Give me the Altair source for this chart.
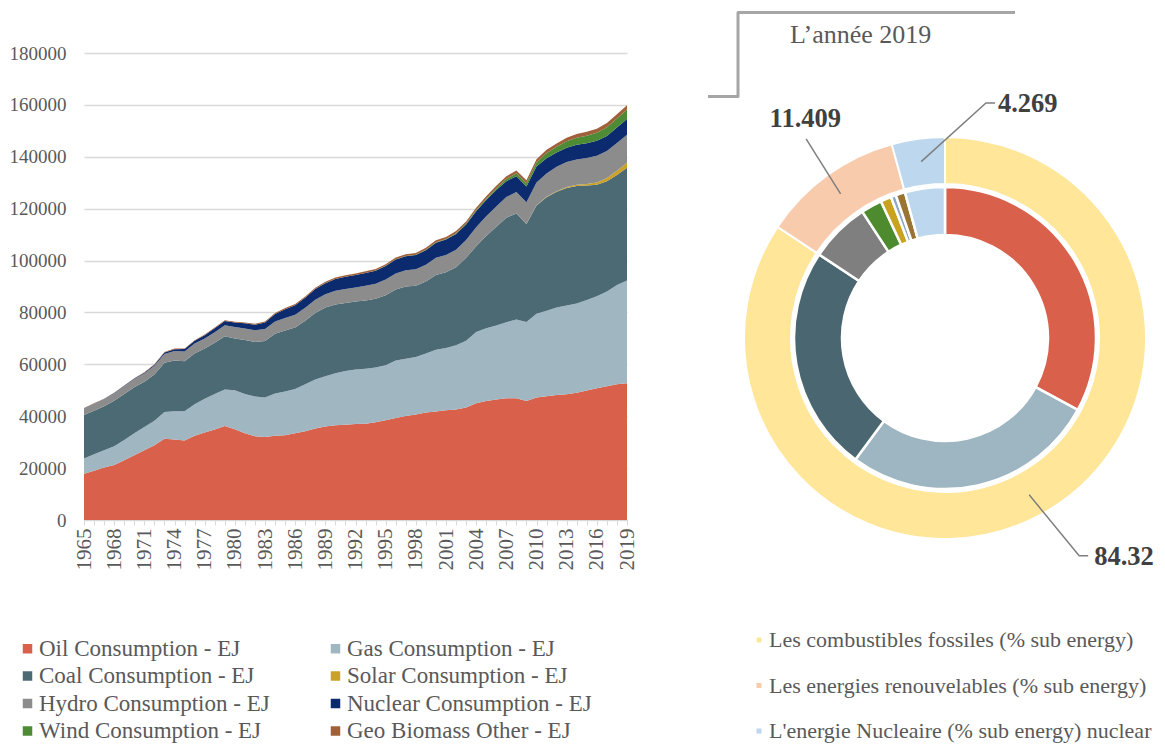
import math
import altair as alt
import pandas as pd

# ---------------- data: stacked area (1965-2019) ----------------
years = list(range(1965, 2020))

oil = [17800, 19000, 20200, 21200, 23000, 25000, 26900, 28800, 31300, 31000,
       30600, 32500, 33700, 34900, 36200, 35000, 33400, 32300, 32000, 32500,
       32700, 33400, 34200, 35300, 36000, 36500, 36700, 37000, 37100, 37700,
       38400, 39300, 40100, 40700, 41400, 41800, 42300, 42600, 43400, 45000,
       45900, 46400, 46900, 46900, 45900, 47200, 47700, 48200, 48500, 49000,
       49900, 50800, 51600, 52300, 52700]
gas = [5900, 6300, 6700, 7200, 7800, 8400, 8900, 9500, 10300, 10900,
       11300, 12100, 13000, 13700, 14100, 15000, 15200, 15300, 15200, 16300,
       16800, 17100, 18100, 18900, 19400, 20100, 20700, 21000, 21200, 21100,
       21200, 22200, 22100, 22100, 22800, 23800, 24000, 24800, 25700, 27500,
       28000, 28600, 29300, 30400, 30400, 32300, 33000, 33700, 34200, 34400,
       34900, 35400, 36500, 38300, 39600]
coal = [16800, 16800, 16900, 17600, 17800, 17800, 17500, 17800, 19000, 19600,
        19300, 19600, 19400, 19700, 20500, 20000, 20800, 21000, 21800, 23000,
        23500, 23700, 24500, 25600, 26500, 26500, 26200, 26200, 26300, 26500,
        27000, 27300, 27800, 27500, 27700, 28800, 29200, 30000, 32000, 33000,
        35600, 38000, 40300, 40800, 37800, 41700, 43700, 44600, 45300, 45300,
        44100, 43000, 42500, 42400, 43500]
solar = [0, 0, 0, 0, 0, 0, 0, 0, 0, 0,
         0, 0, 0, 0, 0, 0, 0, 0, 0, 0,
         0, 0, 0, 0, 0, 0, 0, 0, 0, 0,
         0, 0, 0, 0, 0, 0, 0, 0, 0, 0,
         0, 0, 0, 30, 50, 80, 170, 260, 350, 490,
         640, 900, 1200, 1600, 1900]
hydro = [2500, 2650, 2700, 2800, 2950, 3100, 3200, 3350, 3400, 3650,
         3750, 3800, 3850, 4100, 4300, 4350, 4400, 4500, 4650, 4750,
         4900, 4950, 5000, 5100, 5150, 5300, 5450, 5450, 5700, 5800,
         6100, 6200, 6300, 6350, 6450, 6650, 6600, 6750, 6850, 7300,
         7550, 7800, 7950, 8300, 8350, 8800, 9000, 9350, 9600, 9800,
         9950, 10300, 10400, 10700, 10800]
nuclear = [70, 100, 110, 140, 160, 220, 300, 430, 550, 710,
           950, 1100, 1300, 1500, 1600, 1750, 2050, 2200, 2450, 2850,
           3350, 3600, 3850, 4150, 4250, 4500, 4700, 4750, 4900, 5000,
           5200, 5400, 5350, 5450, 5650, 5850, 6000, 6100, 5950, 6250,
           6250, 6350, 6150, 6100, 6000, 6150, 5900, 5500, 5500, 5600,
           5700, 5800, 5850, 5950, 6100]
wind = [0, 0, 0, 0, 0, 0, 0, 0, 0, 0,
        0, 0, 0, 0, 0, 0, 0, 0, 0, 0,
        10, 10, 10, 10, 20, 20, 30, 30, 40, 50,
        70, 80, 100, 130, 170, 200, 250, 320, 370, 450,
        560, 700, 880, 1080, 1320, 1600, 1940, 2220, 2500, 2700,
        2950, 3100, 3350, 3500, 3600]
geo = [120, 125, 130, 140, 150, 160, 170, 180, 190, 200,
       210, 220, 240, 260, 280, 300, 320, 340, 370, 400,
       430, 450, 470, 490, 510, 540, 560, 580, 600, 620,
       640, 660, 680, 700, 720, 740, 750, 790, 830, 880,
       930, 980, 1030, 1080, 1130, 1200, 1260, 1330, 1400, 1460,
       1500, 1540, 1580, 1620, 1650]

# stacking order (bottom -> top)
series = ["Oil Consumption - EJ", "Gas Consumption - EJ", "Coal Consumption - EJ",
          "Solar Consumption - EJ", "Hydro Consumption - EJ", "Nuclear Consumption - EJ",
          "Wind Consumption - EJ", "Geo Biomass Other - EJ"]
area_colors = ["#D9604A", "#A0B7C1", "#4C6A74", "#C9A227",
               "#8C8C8C", "#0B2B6E", "#4E8B35", "#A0603A"]
# legend is filled column by column: order giving rows Oil|Gas, Coal|Solar, Hydro|Nuclear, Wind|Geo
legend_order = [0, 2, 4, 6, 1, 3, 5, 7]
y_ticks = [0, 20000, 40000, 60000, 80000, 100000, 120000, 140000, 160000, 180000]

# ---------------- data: donut 2019 ----------------
outer_cats = ["Les combustibles fossiles (% sub energy)",
              "Les energies renouvelables  (% sub energy)",
              "L'energie Nucleaire  (% sub energy) nuclear"]
outer_vals = [84.32, 11.409, 4.269]
outer_labels = ["84.32", "11.409", "4.269"]
outer_colors = ["#FFE699", "#F8CBAD", "#BDD7EE"]

inner_cats = ["Oil", "Gas", "Coal", "Hydro", "Wind", "Solar", "Biofuels",
              "Geo Biomass Other", "Nuclear"]
inner_vals = [32.9, 27.2, 24.22, 6.45, 2.25, 1.15, 0.55, 1.009, 4.269]
inner_colors = ["#D9604A", "#9DB6C1", "#4A6771", "#7F7F7F", "#4E8B2E",
                "#C9A21E", "#8FA9C4", "#9A7432", "#BDD7EE"]

title_text = "L\u2019ann\u00e9e 2019"

FONT = "Liberation Serif"
GRAY = "#595959"

# ---------------- left: stacked area ----------------
rows = []
for k, (name, vals) in enumerate(zip(series, [oil, gas, coal, solar, hydro, nuclear, wind, geo])):
    for yr, v in zip(years, vals):
        rows.append({"year": yr, "series": name, "value": v, "k": k})
area_df = pd.DataFrame(rows)

leg_domain = [series[i] for i in legend_order]
leg_range = [area_colors[i] for i in legend_order]

area = alt.Chart(area_df).mark_area(opacity=1, interpolate="linear").encode(
    x=alt.X("year:Q",
            scale=alt.Scale(domain=[1965, 2019], nice=False, zero=False),
            axis=alt.Axis(title=None, values=years, format="d",
                          labelExpr="(datum.value - 1965) % 3 == 0 ? datum.label : ''",
                          labelAngle=-90, labelFont=FONT, labelFontSize=21, labelColor=GRAY,
                          labelPadding=3, tickSize=5, tickColor="#D9D9D9",
                          domainColor="#D9D9D9", grid=False, labelOverlap=False,
                          labelFlush=False)),
    y=alt.Y("value:Q", stack="zero",
            scale=alt.Scale(domain=[0, 180000], range=[512, 45], nice=False),
            axis=alt.Axis(title=None, values=y_ticks, format="d", labelFont=FONT,
                          labelFontSize=19, labelColor=GRAY, labelPadding=18,
                          ticks=False, tickSize=0, domain=False, grid=True,
                          gridColor="#D9D9D9", gridWidth=1.5)),
    color=alt.Color("series:N", sort=leg_domain,
                    scale=alt.Scale(domain=leg_domain, range=leg_range),
                    legend=alt.Legend(title=None, orient="none", legendX=-68, legendY=629,
                                      columns=2, columnPadding=54, rowPadding=3.5,
                                      symbolType="square", symbolSize=90,
                                      symbolStrokeWidth=0, labelOffset=0,
                                      labelFont=FONT, labelFontSize=23,
                                      labelColor=GRAY, labelLimit=400, padding=0)),
    order=alt.Order("k:Q", sort="ascending"),
).properties(width=543, height=512)

# ---------------- right: donut ----------------
CX, CY = 246, 330
R_MID = 178

outer_df = pd.DataFrame({"cat": outer_cats, "value": outer_vals, "k": list(range(3))})
inner_df = pd.DataFrame({"cat": inner_cats, "value": inner_vals, "k": list(range(len(inner_cats)))})

outer = alt.Chart(outer_df).mark_arc(outerRadius=201, innerRadius=154,
                                     stroke="white", strokeWidth=2).encode(
    theta=alt.Theta("value:Q", stack=True),
    order=alt.Order("k:Q"),
    color=alt.Color("cat:N", sort=outer_cats,
                    scale=alt.Scale(domain=outer_cats, range=outer_colors),
                    legend=alt.Legend(title=None, orient="none", legendX=49, legendY=621,
                                      direction="vertical", rowPadding=23.5,
                                      symbolType="square", symbolSize=25,
                                      symbolStrokeWidth=0, labelOffset={"expr": "-1"},
                                      labelFont=FONT, labelFontSize=22,
                                      labelColor=GRAY, labelLimit=500, padding=0)),
    x=alt.value(CX), y=alt.value(CY),
)

inner = alt.Chart(inner_df).mark_arc(outerRadius=151, innerRadius=103,
                                     stroke="white", strokeWidth=2.5).encode(
    theta=alt.Theta("value:Q", stack=True),
    order=alt.Order("k:Q"),
    color=alt.Color("cat:N", sort=inner_cats,
                    scale=alt.Scale(domain=inner_cats, range=inner_colors), legend=None),
    x=alt.value(CX), y=alt.value(CY),
)

# leader lines & value labels, anchored at the middle angle of each outer slice
leader_offsets = [[(50, 61), (59, 61)], [(-34.5, -55)], [(64.8, -58.6), (73.8, -58.6)]]
label_offsets = [(65, 62), (-71, -75), (76.8, -57.6)]
lead_rows, lab_rows = [], []
cum = 0.0
for i, v in enumerate(outer_vals):
    mid = (cum + v / 2) / 100 * 2 * math.pi
    cum += v
    sx = CX + R_MID * math.sin(mid)
    sy = CY - R_MID * math.cos(mid)
    pts = [(sx, sy)] + [(sx + dx, sy + dy) for dx, dy in leader_offsets[i]]
    for j, (px, py) in enumerate(pts):
        lead_rows.append({"id": i, "j": j, "px": px, "py": py})
    lab_rows.append({"label": outer_labels[i], "px": sx + label_offsets[i][0],
                     "py": sy + label_offsets[i][1]})
lead_df = pd.DataFrame(lead_rows)
lab_df = pd.DataFrame(lab_rows)

leaders = alt.Chart(lead_df).mark_line(color="#7F7F7F", strokeWidth=1.5).encode(
    x=alt.X("px:Q", scale=None, axis=None),
    y=alt.Y("py:Q", scale=None, axis=None),
    detail="id:N",
    order="j:Q",
)
labels = alt.Chart(lab_df).mark_text(font=FONT, fontSize=26.5, fontWeight="bold",
                                     color="#404040", align="left", baseline="middle").encode(
    x=alt.X("px:Q", scale=None, axis=None),
    y=alt.Y("py:Q", scale=None, axis=None),
    text="label:N",
)

# title bracket
bracket_df = pd.DataFrame({"px": [9, 39, 39, 316], "py": [88.5, 88.5, 4.5, 4.5], "j": [0, 1, 2, 3]})
bracket = alt.Chart(bracket_df).mark_line(color="#A6A6A6", strokeWidth=3,
                                          strokeJoin="round").encode(
    x=alt.X("px:Q", scale=None, axis=None),
    y=alt.Y("py:Q", scale=None, axis=None),
    order="j:Q",
)
title = alt.Chart(pd.DataFrame({"t": [title_text]})).mark_text(
    font=FONT, fontSize=26, color=GRAY, align="left", baseline="alphabetic").encode(
    x=alt.value(91), y=alt.value(35), text="t:N")

right = alt.layer(outer, inner, leaders, labels, bracket, title).resolve_scale(
    color="independent").properties(width=445, height=728)

chart = alt.hconcat(area, right, spacing=62).resolve_scale(color="independent").properties(
    padding={"left": 1, "top": 0, "right": 0, "bottom": 0}
).configure(font=FONT).configure_view(strokeWidth=0, stroke="transparent")

chart.save("out.html", embed_options={"renderer": "svg", "actions": False})
